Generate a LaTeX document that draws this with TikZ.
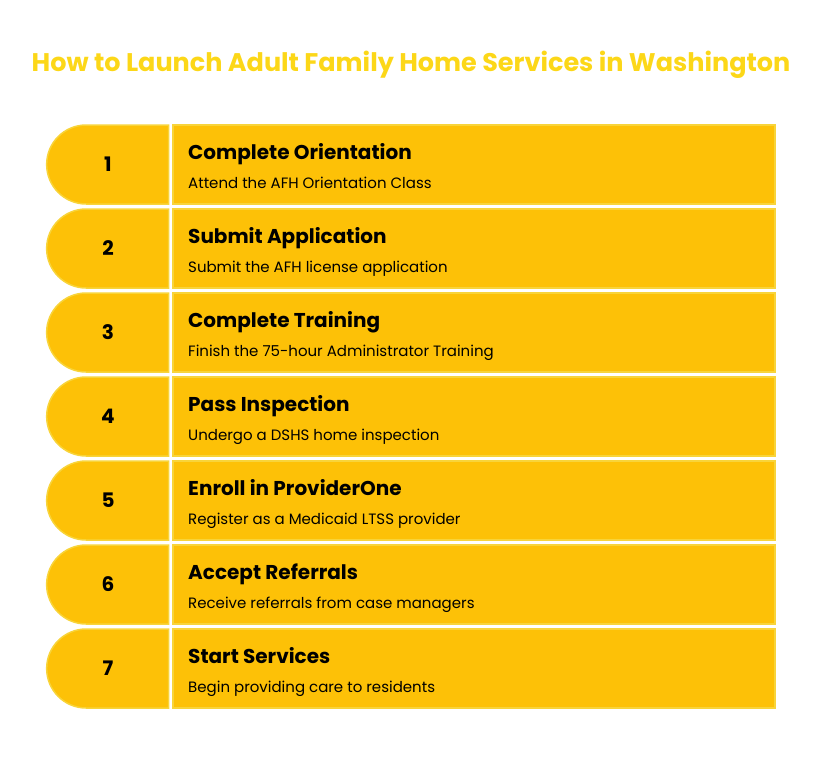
\documentclass[tikz,border=0pt]{standalone}
\usepackage{fontspec}
\setmainfont{Poppins}
\usetikzlibrary{shapes.misc}
\definecolor{amber}{HTML}{FDC107}
\definecolor{rim}{HTML}{F8D43A}
\definecolor{titleyellow}{HTML}{FCD718}
\tikzset{
	num/.style={rounded rectangle, rounded rectangle right arc=none, draw=rim, fill=amber, line width=1.5pt, minimum width=122pt, minimum height=79pt, inner sep=0pt, font=\fontsize{20}{24}\selectfont\bfseries},
	stepbox/.style={draw=rim, fill=amber, line width=1.5pt, minimum width=602pt, minimum height=79pt, inner sep=0pt},
	head/.style={anchor=base west, inner sep=0pt, font=\fontsize{20}{24}\selectfont\bfseries},
	desc/.style={anchor=base west, inner sep=0pt, font=\fontsize{15}{18}\selectfont}
}
\begin{document}
\begin{tikzpicture}[x=1pt, y=-1pt]
		\useasboundingbox (0,0) rectangle (822,780);
		\node[font=\fontsize{25.5}{30}\selectfont\bfseries, text=titleyellow] (title) at (411,65) {How to Launch Adult Family Home Services in Washington};
		\node[num] (n1) at (108,164.5) {1};
		\node[stepbox] (b1) at (474,164.5) {};
		\node[head] (h1) at (188,159) {Complete Orientation};
		\node[desc] (d1) at (188,188) {Attend the AFH Orientation Class};
		\node[num] (n2) at (108,248.5) {2};
		\node[stepbox] (b2) at (474,248.5) {};
		\node[head] (h2) at (188,243) {Submit Application};
		\node[desc] (d2) at (188,272) {Submit the AFH license application};
		\node[num] (n3) at (108,332.5) {3};
		\node[stepbox] (b3) at (474,332.5) {};
		\node[head] (h3) at (188,327) {Complete Training};
		\node[desc] (d3) at (188,356) {Finish the 75-hour Administrator Training};
		\node[num] (n4) at (108,416.5) {4};
		\node[stepbox] (b4) at (474,416.5) {};
		\node[head] (h4) at (188,411) {Pass Inspection};
		\node[desc] (d4) at (188,440) {Undergo a DSHS home inspection};
		\node[num] (n5) at (108,500.5) {5};
		\node[stepbox] (b5) at (474,500.5) {};
		\node[head] (h5) at (188,495) {Enroll in ProviderOne};
		\node[desc] (d5) at (188,524) {Register as a Medicaid LTSS provider};
		\node[num] (n6) at (108,584.5) {6};
		\node[stepbox] (b6) at (474,584.5) {};
		\node[head] (h6) at (188,579) {Accept Referrals};
		\node[desc] (d6) at (188,608) {Receive referrals from case managers};
		\node[num] (n7) at (108,668.5) {7};
		\node[stepbox] (b7) at (474,668.5) {};
		\node[head] (h7) at (188,663) {Start Services};
		\node[desc] (d7) at (188,692) {Begin providing care to residents};
	\end{tikzpicture}
\end{document}
